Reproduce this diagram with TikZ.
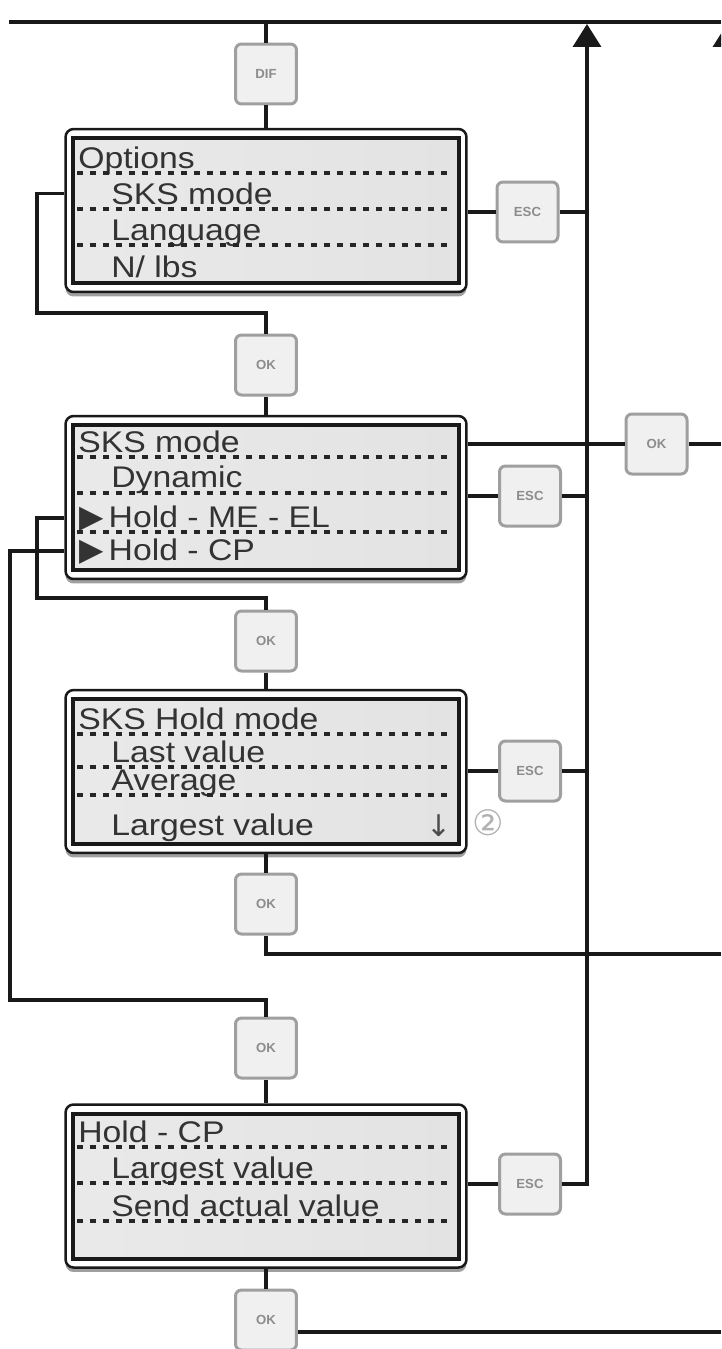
\documentclass[tikz,border=0pt]{standalone}
\usepackage{fontspec}
\setmainfont{Liberation Sans}
\newfontfamily\lcdfont[FakeStretch=1.13]{Liberation Sans}
\newfontfamily\symfont{DejaVu Sans}
\usetikzlibrary{arrows.meta,shadows}

\begin{document}
\begin{tikzpicture}[x=0.02cm, y=-0.02cm,
    line/.style={line width=0.07cm, black!90},
    tip/.style={-{Triangle[width=0.56cm, length=0.46cm]}},
    button/.style={rectangle, rounded corners=0.12cm, draw=gray!75, line width=0.06cm,
        fill=gray!12, minimum width=1.22cm, minimum height=1.2cm, inner sep=0pt,
        font=\fontsize{7.5}{8}\selectfont\bfseries, text=gray!90},
    outerbox/.style={rectangle, rounded corners=0.16cm, draw=black!90, line width=0.05cm,
        fill=white, minimum width=8.02cm, minimum height=3.26cm,
        drop shadow={shadow xshift=0cm, shadow yshift=-0.09cm, fill=gray!75, opacity=1}},
    innerbox/.style={rectangle, draw=black!90, line width=0.08cm, left color=gray!17,
        middle color=white, right color=gray!22, minimum width=7.74cm, minimum height=2.9cm},
    entry/.style={anchor=base west, inner sep=0pt, text=black!80,
        font=\lcdfont\fontsize{17}{20}\selectfont},
    dots/.style={line width=0.07cm, dash pattern=on 0.12cm off 0.14cm, black!85}]

    \useasboundingbox (0,0) rectangle (721,1349);
    \clip (0,0) rectangle (721,1349);
    \fill[white] (0,0) rectangle (721,1349);

    % Draw nodes
    \node[button] (dif) at (266,74) {DIF};

    \node[outerbox] (opt) at (266,210.5) {};
    \node[innerbox] (optin) at (266,210.5) {};
    \node[entry] (optA) at (78,168) {Options};
    \node[entry] (optB) at (111,204) {SKS mode};
    \node[entry] (optC) at (111,240) {Language};
    \node[entry] (optD) at (111,277) {N/ lbs};
    \node[button] (esc1) at (527.5,212) {ESC};

    \node[button] (ok1) at (266,365) {OK};

    \node[outerbox] (sks) at (266,497.5) {};
    \node[innerbox] (sksin) at (266,497.5) {};
    \node[entry] (sksA) at (78,452) {SKS mode};
    \node[entry] (sksB) at (111,487) {Dynamic};
    \node[entry] (sksC) at (79,527) {{\symfont\fontsize{18}{18}\selectfont ▶}\hspace{0.1cm}Hold - ME - EL};
    \node[entry] (sksD) at (79,560) {{\symfont\fontsize{18}{18}\selectfont ▶}\hspace{0.1cm}Hold - CP};
    \node[button] (okR) at (656.5,444) {OK};
    \node[button] (esc2) at (530,496) {ESC};

    \node[button] (ok2) at (266,641) {OK};

    \node[outerbox] (hold) at (266,771.5) {};
    \node[innerbox] (holdin) at (266,771.5) {};
    \node[entry] (holdA) at (78,729) {SKS Hold mode};
    \node[entry] (holdB) at (111,762) {Last value};
    \node[entry] (holdC) at (111,790) {Average};
    \node[entry] (holdD) at (111,835) {Largest value};
    \node[inner sep=0pt, text=black!70, font=\symfont\fontsize{17}{17}\selectfont] (scroll) at (439,826) {↓};
    \node[inner sep=0pt, text=gray!60, font=\symfont\fontsize{20}{20}\selectfont] (note) at (488,823) {②};
    \node[button] (esc3) at (530,771) {ESC};

    \node[button] (ok3) at (266,904) {OK};
    \node[button] (ok4) at (266,1048) {OK};

    \node[outerbox] (cp) at (266,1186) {};
    \node[innerbox] (cpin) at (266,1186) {};
    \node[entry] (cpA) at (78,1142) {Hold - CP};
    \node[entry] (cpB) at (111,1178) {Largest value};
    \node[entry] (cpC) at (111,1216) {Send actual value};
    \node[button] (esc4) at (530,1184) {ESC};

    \node[button] (ok5) at (266,1320) {OK};

    % Dotted separators
    \foreach \y in {173,209,245, 457,493,532, 734,767,795, 1147,1183,1221}
        \draw[dots] (77,\y) -- (449,\y);

    % Draw connections
    \coordinate (topL) at (9,22);
    \coordinate (topR) at (721,22);
    \coordinate (bus) at (587,24);
    \coordinate (bus2) at (727,24);
    \coordinate (bus2end) at (727,1349);
    \coordinate (loopA) at (37,313);
    \coordinate (loopB) at (37,598);
    \coordinate (loopC) at (10,1000);
    \coordinate (outA) at (721,954);
    \coordinate (outB) at (721,1332);

    \draw[line] (topL) -- (topR);
    \draw[line] (dif.north |- topL) -- (dif.north);
    \draw[line] (dif.south) -- (opt.north);
    \draw[line] (optB.west -| opt.west) -| (loopA) -| (ok1.north);
    \draw[line] (ok1.south) -- (sks.north);
    \draw[line] (sksC.west -| sks.west) -| (loopB) -| (ok2.north);
    \draw[line] (sksD.west -| sks.west) -| (loopC) -| (ok4.north);
    \draw[line] (ok2.south) -- (hold.north);
    \draw[line] (hold.south) -- (ok3.north);
    \draw[line] (ok3.south) |- (outA);
    \draw[line] (ok4.south) -- (cp.north);
    \draw[line] (cp.south) -- (ok5.north);
    \draw[line] (ok5.east |- outB) -- (outB);
    \draw[line] (okR.west -| sks.east) -- (okR.west);
    \draw[line] (okR.east) -- (okR.east -| topR);

    % Escape lines to the bus
    \foreach \b/\e in {opt/esc1, sks/esc2, hold/esc3, cp/esc4}
        \draw[line] (\e.west -| \b.east) -- (\e.west);
    \foreach \e in {esc1, esc2, esc3}
        \draw[line] (\e.east) -- (\e.east -| bus);
    \draw[line, tip] (esc4.east) -| (bus);
    \draw[line, tip] (bus2end) -- (bus2);
\end{tikzpicture}
\end{document}
